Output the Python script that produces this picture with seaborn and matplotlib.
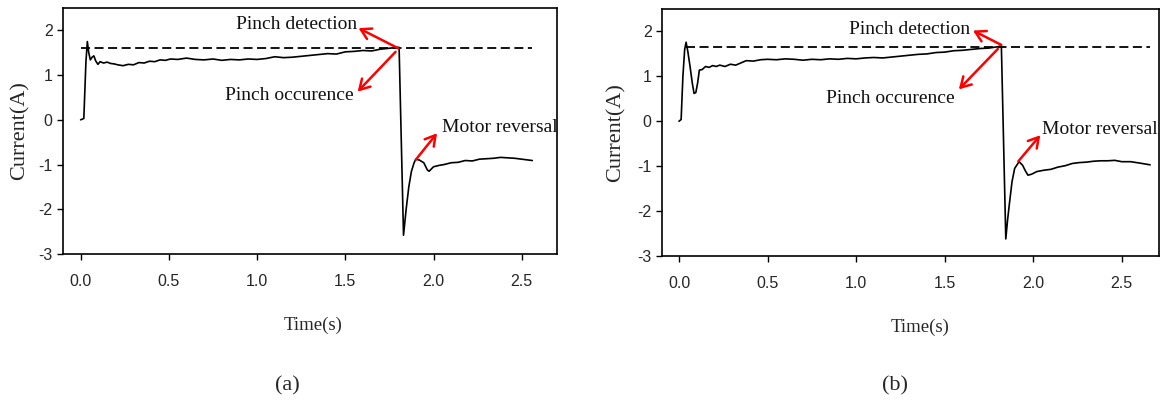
import matplotlib
matplotlib.use("Agg")
import matplotlib.pyplot as plt
from matplotlib import font_manager
import seaborn as sns
import pandas as pd

# ---------------- data ----------------
time_a = [0.00, 0.018, 0.030, 0.038, 0.046, 0.055, 0.065, 0.075, 0.085, 0.098, 0.11, 0.13, 0.15,
          0.17, 0.19, 0.21, 0.24, 0.27, 0.30, 0.33, 0.36, 0.39, 0.42, 0.45, 0.48, 0.51, 0.55,
          0.60, 0.65, 0.70, 0.75, 0.80, 0.85, 0.90, 0.95, 1.00, 1.05, 1.10, 1.15, 1.20, 1.25,
          1.30, 1.35, 1.40, 1.45, 1.50, 1.55, 1.60, 1.65, 1.70, 1.75, 1.79, 1.805, 1.83, 1.845,
          1.86, 1.875, 1.89, 1.90, 1.92, 1.945, 1.965, 1.975, 2.00, 2.03, 2.06, 2.10, 2.14, 2.18,
          2.22, 2.26, 2.30, 2.34, 2.38, 2.42, 2.46, 2.50, 2.56]
current_a = [0.00, 0.03, 1.30, 1.75, 1.50, 1.34, 1.40, 1.43, 1.32, 1.24, 1.30, 1.27, 1.29,
             1.26, 1.25, 1.23, 1.21, 1.24, 1.23, 1.28, 1.27, 1.31, 1.30, 1.34, 1.33, 1.36, 1.35,
             1.38, 1.35, 1.34, 1.36, 1.33, 1.35, 1.34, 1.36, 1.35, 1.37, 1.41, 1.39, 1.40, 1.42,
             1.44, 1.46, 1.48, 1.47, 1.52, 1.53, 1.55, 1.54, 1.58, 1.60, 1.62, 1.62, -2.58, -2.00,
             -1.50, -1.15, -0.96, -0.88, -0.90, -0.96, -1.12, -1.15, -1.05, -1.02, -1.00, -0.96,
             -0.95, -0.91, -0.92, -0.88, -0.87, -0.86, -0.84, -0.85, -0.86, -0.88, -0.91]

time_b = [0.0, 0.012, 0.022, 0.032, 0.040, 0.050, 0.062, 0.075, 0.085, 0.095, 0.105, 0.115, 0.13,
          0.15, 0.17, 0.19, 0.21, 0.23, 0.26, 0.29, 0.32, 0.35, 0.38, 0.42, 0.46, 0.50, 0.55, 0.60,
          0.65, 0.70, 0.75, 0.80, 0.85, 0.90, 0.95, 1.00, 1.05, 1.10, 1.15, 1.20, 1.25, 1.30, 1.35,
          1.40, 1.45, 1.50, 1.55, 1.60, 1.65, 1.70, 1.75, 1.80, 1.82, 1.845, 1.855, 1.865, 1.88,
          1.895, 1.92, 1.94, 1.955, 1.97, 1.99, 2.02, 2.06, 2.10, 2.14, 2.18, 2.22, 2.26, 2.30,
          2.34, 2.38, 2.42, 2.46, 2.50, 2.55, 2.60, 2.66]
current_b = [0.0, 0.04, 1.00, 1.60, 1.76, 1.55, 1.23, 0.85, 0.62, 0.64, 0.85, 1.14, 1.15,
             1.22, 1.20, 1.24, 1.22, 1.25, 1.22, 1.27, 1.25, 1.30, 1.35, 1.34, 1.37, 1.38, 1.37,
             1.39, 1.38, 1.36, 1.38, 1.37, 1.39, 1.38, 1.40, 1.39, 1.41, 1.42, 1.41, 1.43, 1.45,
             1.47, 1.49, 1.50, 1.53, 1.54, 1.57, 1.58, 1.60, 1.62, 1.63, 1.66, 1.68, -2.62, -2.20,
             -1.85, -1.35, -1.05, -0.90, -0.98, -1.10, -1.20, -1.18, -1.12, -1.09, -1.07, -1.02,
             -0.99, -0.94, -0.92, -0.91, -0.89, -0.88, -0.88, -0.87, -0.90, -0.90, -0.93, -0.97]

threshold_a = 1.60
threshold_b = 1.65
threshold_span_a = [0.0, 2.56]
threshold_span_b = [0.04, 2.66]

x_ticks = [0.0, 0.5, 1.0, 1.5, 2.0, 2.5]
x_ticklabels = ["0.0", "0.5", "1.0", "1.5", "2.0", "2.5"]
y_ticks = [-3, -2, -1, 0, 1, 2]
y_ticklabels = ["-3", "-2", "-1", "0", "1", "2"]

labels = ["Pinch detection", "Pinch occurence", "Motor reversal"]
# text anchor (left, center) positions
text_pos_a = [(0.88, 2.12), (0.82, 0.54), (2.05, -0.18)]
text_pos_b = [(0.96, 2.05), (0.83, 0.50), (2.05, -0.18)]
# arrows: (tail, head)
arrows_a = [((1.80, 1.60), (1.575, 2.05)), ((1.785, 1.52), (1.57, 0.63)), ((1.90, -0.89), (2.02, -0.30))]
arrows_b = [((1.82, 1.70), (1.66, 2.02)), ((1.80, 1.61), (1.58, 0.71)), ((1.916, -0.89), (2.04, -0.31))]
panel_tags = ["(a)", "(b)"]

# ---------------- style ----------------
sns.set_style("ticks")
serif = ["Liberation Serif", "DejaVu Serif"]
tick_family = ["Liberation Sans", "DejaVu Sans"]
tick_size = 11.5
plt.rcParams["font.family"] = serif

fig = plt.figure(figsize=(11.61, 4.05), dpi=100)
ax_a = fig.add_axes([63 / 1161, (405 - 254) / 405, 494 / 1161, 246 / 405])
ax_b = fig.add_axes([662 / 1161, (405 - 256) / 405, 497 / 1161, 247 / 405])

panels = [
    (ax_a, time_a, current_a, threshold_a, threshold_span_a, text_pos_a, arrows_a, (-0.10, 2.70), (0.506, -0.289), -0.087),
    (ax_b, time_b, current_b, threshold_b, threshold_span_b, text_pos_b, arrows_b, (-0.096, 2.71), (0.52, -0.287), -0.092),
]

for ax, t, c, thr, span, tpos, arrs, xlim, xlab_pos, ylab_x in panels:
    df = pd.DataFrame({"Time(s)": t, "Current(A)": c})
    sns.lineplot(data=df, x="Time(s)", y="Current(A)", ax=ax, color="black",
                 linewidth=1.2, sort=False, estimator=None)
    ax.plot(span, [thr, thr], color="black", linewidth=1.3, linestyle=(0, (5, 2.5)))
    ax.set_xlim(*xlim)
    ax.set_ylim(-3, 2.5)
    ax.set_xticks(x_ticks)
    ax.set_xticklabels(x_ticklabels, family=tick_family, fontsize=tick_size)
    ax.set_yticks(y_ticks)
    ax.set_yticklabels(y_ticklabels, family=tick_family, fontsize=tick_size)
    ax.tick_params(direction="out", length=4.5, width=1.0, color="black")
    ax.tick_params(axis="x", pad=10)
    ax.tick_params(axis="y", pad=3)
    for sp in ax.spines.values():
        sp.set_visible(True)
        sp.set_linewidth(1.2)
        sp.set_color("black")
    ax.set_xlabel("Time(s)", fontsize=13.5, family=serif)
    ax.set_ylabel("Current(A)", fontsize=16, family=serif)
    ax.xaxis.set_label_coords(*xlab_pos)
    ax.xaxis.label.set_va("center")
    ax.yaxis.set_label_coords(ylab_x, 0.5)
    ax.yaxis.label.set_va("center")
    for lab, (x, y) in zip(labels, tpos):
        ax.text(x, y, lab, fontsize=14, family=serif, ha="left", va="center", color="#111111")
    for tail, head in arrs:
        ax.annotate("", xy=head, xytext=tail,
                    arrowprops=dict(arrowstyle="->,head_length=0.6,head_width=0.35",
                                    color="red", lw=1.8, mutation_scale=12,
                                    shrinkA=0, shrinkB=0))

fig.text(287 / 1161, 1 - 386 / 405, panel_tags[0], fontsize=16, family=serif, ha="center", va="center")
fig.text(895 / 1161, 1 - 386 / 405, panel_tags[1], fontsize=16, family=serif, ha="center", va="center")

fig.savefig("out.png", dpi=100)
